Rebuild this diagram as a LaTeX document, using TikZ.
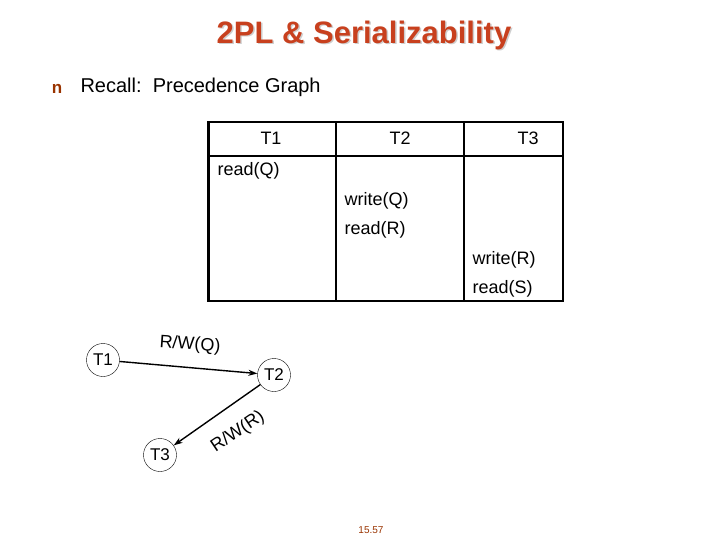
\documentclass[tikz,border=0pt]{standalone}
\usepackage{fontspec}
\setmainfont{Liberation Sans}
\usepackage{tikz}
\usetikzlibrary{arrows.meta, positioning, calc}
\definecolor{TitleRed}{HTML}{C8401E}
\definecolor{BulletBrown}{HTML}{993300}
\definecolor{ShadowGray}{HTML}{CFCFCF}

\begin{document}
\begin{tikzpicture}[x=1pt, y=-1pt,
    txn/.style={circle, draw, thin, minimum size=33pt, inner sep=0pt, font=\fontsize{17}{17}\selectfont},
    cell/.style={anchor=west, font=\fontsize{18}{18}\selectfont},
    head/.style={font=\fontsize{18}{18}\selectfont},
    edgelbl/.style={font=\fontsize{18}{18}\selectfont},
    rw/.style={line width=1.4pt, -{Stealth[length=9pt, width=6pt]}}]
    \useasboundingbox (0,0) rectangle (720,540);

    % title with shadow
    \node[color=ShadowGray, font=\bfseries\fontsize{31}{31}\selectfont] (titleshadow) at (365.5,36.5) {2PL \& Serializability};
    \node[color=TitleRed, font=\bfseries\fontsize{31}{31}\selectfont] (title) at (364,35) {2PL \& Serializability};

    \node[color=BulletBrown, font=\bfseries\fontsize{17}{17}\selectfont] (bullet) at (57,89) {n};
    \node[anchor=west, font=\fontsize{20}{20}\selectfont] (recall) at (77,87) {Recall:~~Precedence Graph};

    % schedule table
    \draw[line width=2.2pt] (208.5,122) rectangle (563,301);
    \draw[line width=2.2pt] (208.5,156) -- (563,156);
    \draw[line width=2.2pt] (336,122) -- (336,301);
    \draw[line width=2.2pt] (464,122) -- (464,301);
    \node[head] (h1) at (271,138) {T1};
    \node[head] (h2) at (400,138) {T2};
    \node[head] (h3) at (528,138) {T3};

    \node[cell] (rq) at (214,171) {read(Q)};
    \node[cell] (wq) at (341,201) {write(Q)};
    \node[cell] (rr) at (341,230) {read(R)};
    \node[cell] (wr) at (469,260) {write(R)};
    \node[cell] (rs) at (469,289) {read(S)};

    % precedence graph
    \node[txn] (t1) at (103,360) {T1};
    \node[txn] (t2) at (274,375) {T2};
    \node[txn] (t3) at (160,455) {T3};

    \draw[rw] (t1) -- (t2);
    \draw[rw] (t2) -- (t3);
    \node[edgelbl, rotate=-4] (lq) at (190,345) {R/W(Q)};
    \node[edgelbl, rotate=34] (lr) at (238,432) {R/W(R)};

    \node[color=BulletBrown, font=\fontsize{10}{10}\selectfont] (pageno) at (371,530) {15.57};
\end{tikzpicture}
\end{document}
